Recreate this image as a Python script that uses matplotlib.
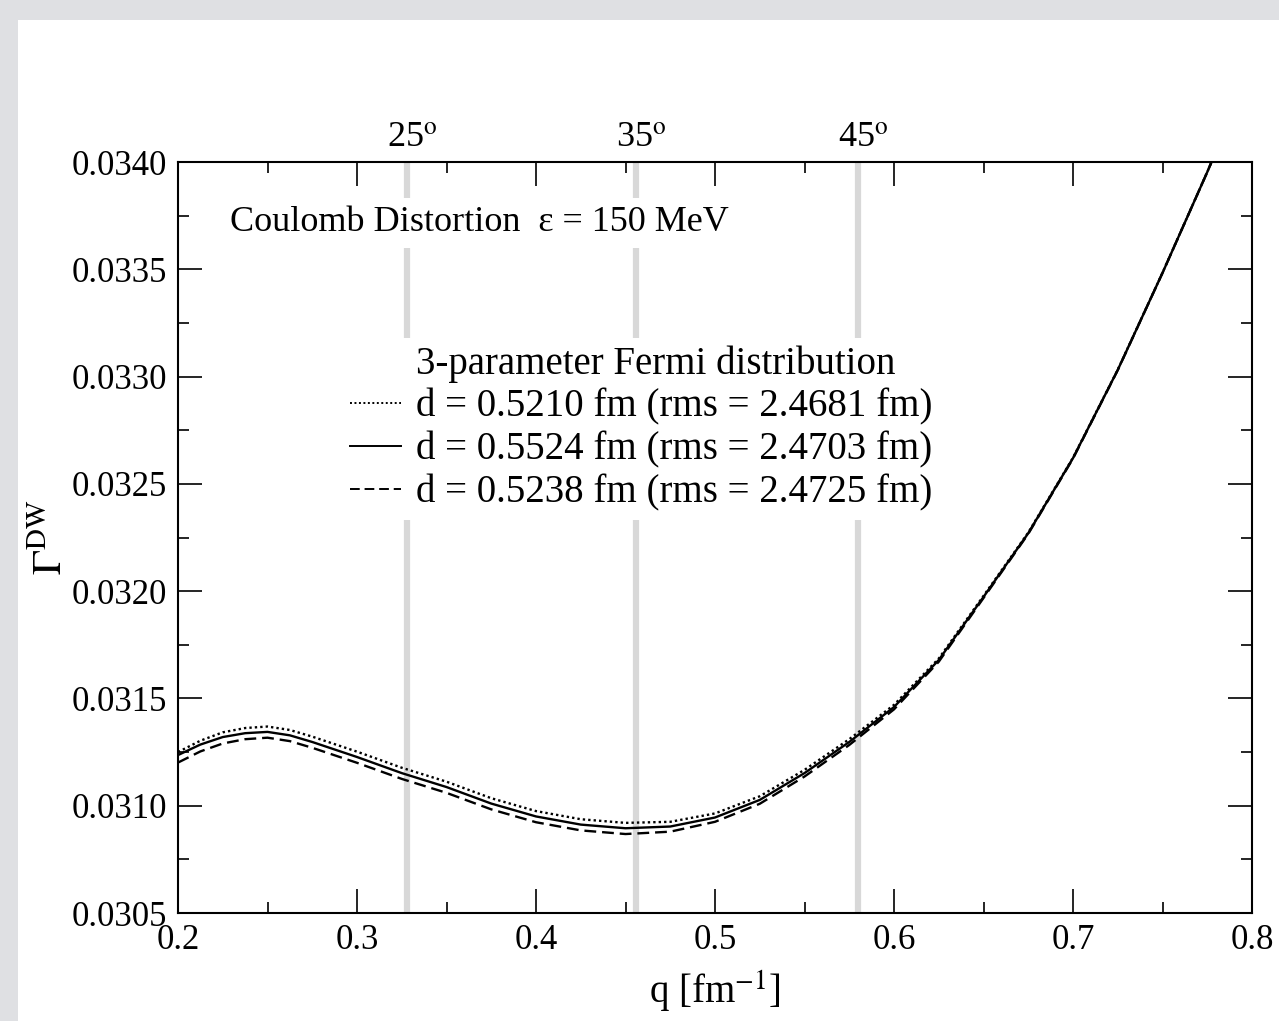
import matplotlib
matplotlib.use('Agg')
import matplotlib.pyplot as plt
from matplotlib.ticker import MultipleLocator, FormatStrFormatter
from matplotlib.patches import Rectangle
from matplotlib.lines import Line2D

plt.rcParams['font.family'] = ['Liberation Serif', 'DejaVu Serif']
plt.rcParams['mathtext.fontset'] = 'stix'

# momentum transfer grid and Gamma^DW values
q = [0.200, 0.2125, 0.225, 0.2375, 0.250, 0.2625, 0.275, 0.300, 0.325, 0.350, 0.375,
     0.400, 0.425, 0.450, 0.475, 0.500, 0.525, 0.550, 0.575, 0.600, 0.625, 0.650,
     0.675, 0.700, 0.725, 0.750, 0.775, 0.800]

gamma_dotted = [0.031250, 0.031303, 0.031342, 0.031362, 0.031369, 0.031353, 0.031322,
                0.031252, 0.031177, 0.031112, 0.031035, 0.030975, 0.030937, 0.030920,
                0.030925, 0.030964, 0.031044, 0.031167, 0.031310, 0.031470, 0.031686,
                0.031978, 0.032273, 0.032622, 0.033032, 0.033484, 0.033953, 0.034447]
gamma_solid = [0.031236, 0.031285, 0.031320, 0.031338, 0.031344, 0.031328, 0.031297,
               0.031227, 0.031152, 0.031087, 0.031010, 0.030950, 0.030912, 0.030895,
               0.030903, 0.030945, 0.031027, 0.031152, 0.031297, 0.031460, 0.031679,
               0.031973, 0.032270, 0.032620, 0.033031, 0.033483, 0.033953, 0.034447]
gamma_dashed = [0.031201, 0.031253, 0.031290, 0.031310, 0.031317, 0.031301, 0.031270,
                0.031200, 0.031125, 0.031060, 0.030983, 0.030923, 0.030885, 0.030868,
                0.030879, 0.030925, 0.031009, 0.031136, 0.031283, 0.031449, 0.031671,
                0.031968, 0.032267, 0.032618, 0.033030, 0.033483, 0.033953, 0.034447]

labels = ['d = 0.5210 fm (rms = 2.4681 fm)',
          'd = 0.5524 fm (rms = 2.4703 fm)',
          'd = 0.5238 fm (rms = 2.4725 fm)']

# scattering angles marked on top
angle_q = [0.328, 0.456, 0.580]
angle_labels = ['25$^{\\mathrm{o}}$', '35$^{\\mathrm{o}}$', '45$^{\\mathrm{o}}$']

fig = plt.figure(figsize=(12.79, 10.21), dpi=100, facecolor='#dfe0e3')
# white page on the grey frame
fig.patches.append(Rectangle((18 / 1279, 0), 1, 1 - 20 / 1021, transform=fig.transFigure,
                             facecolor='white', edgecolor='none', zorder=-5))

ax = fig.add_axes([178 / 1279, 108 / 1021, 1074 / 1279, 751 / 1021])
ax.set_facecolor('white')

for xq in angle_q:
    ax.axvline(xq, color='#d8d8d8', lw=4.5, zorder=1)
for xq, lab in zip(angle_q, angle_labels):
    ax.text(xq + 0.003, 1.032, lab, transform=ax.get_xaxis_transform(),
            ha='center', va='center', fontsize=26)

ax.plot(q, gamma_dotted, color='black', lw=1.7, linestyle=(0, (1, 1.3)), zorder=4)
ax.plot(q, gamma_solid, color='black', lw=1.7, linestyle='-', zorder=4)
ax.plot(q, gamma_dashed, color='black', lw=1.7, linestyle=(0, (5, 2.5)), zorder=4)

ax.text(0.048, 0.919, 'Coulomb Distortion  ε = 150 MeV', transform=ax.transAxes,
        ha='left', va='center', fontsize=26, zorder=3,
        bbox=dict(facecolor='white', edgecolor='none', pad=6))

handles = [Line2D([], [], color='none'),
           Line2D([], [], color='black', lw=1.4, linestyle=(0, (1, 1.3))),
           Line2D([], [], color='black', lw=1.4, linestyle='-'),
           Line2D([], [], color='black', lw=1.4, linestyle=(0, (5, 2.5)))]
leg = ax.legend(handles, ['3-parameter Fermi distribution'] + labels,
                loc='upper left', bbox_to_anchor=(0.135, 0.792), fontsize=28,
                frameon=True, facecolor='white', edgecolor='none', framealpha=1,
                handlelength=1.3, handletextpad=0.4, labelspacing=0.15,
                borderpad=0.2, fancybox=False)
leg.set_zorder(3)

ax.set_xlim(0.2, 0.8)
ax.set_ylim(0.0305, 0.0340)
ax.xaxis.set_major_locator(MultipleLocator(0.1))
ax.xaxis.set_minor_locator(MultipleLocator(0.05))
ax.yaxis.set_major_locator(MultipleLocator(0.0005))
ax.yaxis.set_minor_locator(MultipleLocator(0.00025))
ax.xaxis.set_major_formatter(FormatStrFormatter('%.1f'))
ax.yaxis.set_major_formatter(FormatStrFormatter('%.4f'))
ax.tick_params(which='both', direction='in', top=True, right=True, width=1.2,
               labelsize=25, colors='black')
ax.tick_params(which='major', length=17, pad=8)
ax.tick_params(which='minor', length=8)
for sp in ax.spines.values():
    sp.set_linewidth(1.5)

ax.set_xlabel('q [fm$^{-1}$]', fontsize=28, labelpad=8)
ax.set_ylabel('$\\mathrm{\\Gamma}^{\\mathrm{DW}}$', fontsize=30, labelpad=0)

fig.savefig('out.png', dpi=100, facecolor=fig.get_facecolor())
